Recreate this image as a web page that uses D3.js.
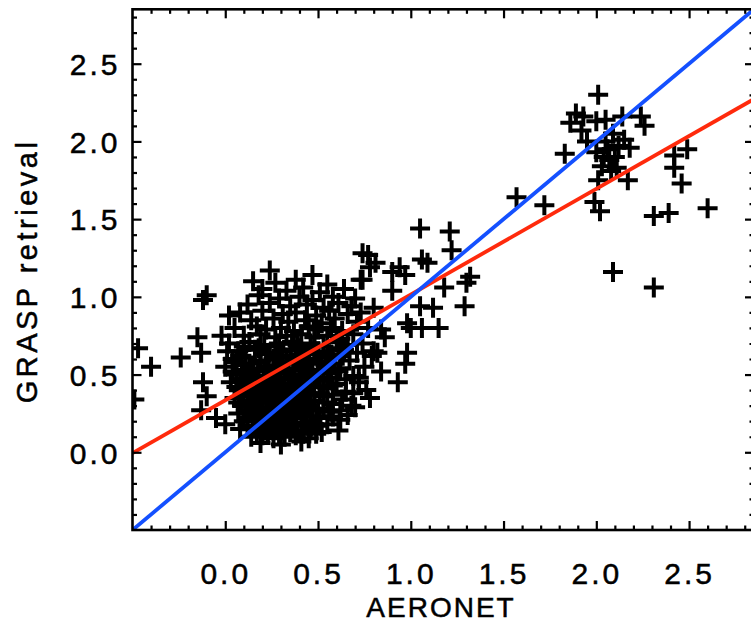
<!DOCTYPE html>
<html>
<head>
<meta charset="utf-8">
<script src="https://cdn.jsdelivr.net/npm/d3@7"></script>
<style>
  html, body { margin: 0; padding: 0; background: #fff; }
  svg { display: block; }
  text { font-family: "Liberation Sans", Arial, sans-serif; fill: #000; stroke: #000; stroke-width: 0.5px; }
</style>
</head>
<body>
<svg id="chart" width="751" height="622"></svg>
<script>
// AOD pairs: [AERONET, GRASP retrieval]
const coreCluster = [
  [0.24,1.17],[0.47,1.14],
  [0.15,1.10],[0.27,1.09],[0.38,1.11],[0.55,1.08],
  [0.20,1.05],[0.33,1.04],[0.42,1.06],[0.51,1.03],[0.64,1.05],
  [0.18,1.01],[0.29,0.99],[0.40,1.00],[0.47,0.98],[0.58,1.00],[0.70,0.99],
  [0.12,0.95],[0.24,0.96],[0.35,0.94],[0.44,0.95],[0.53,0.93],[0.61,0.96],[0.68,0.94],
  [0.08,0.90],[0.20,0.91],[0.31,0.89],[0.38,0.90],[0.49,0.88],[0.56,0.91],[0.66,0.89],[0.73,0.90],
  [0.14,0.85],[0.26,0.86],[0.34,0.84],[0.43,0.85],[0.52,0.83],[0.59,0.86],[0.71,0.84],
  [0.05,0.80],[0.17,0.81],[0.22,0.79],[0.30,0.80],[0.37,0.78],[0.45,0.81],[0.50,0.79],[0.57,0.80],[0.63,0.78],[0.77,0.80],
  [0.10,0.75],[0.19,0.76],[0.27,0.74],[0.33,0.75],[0.41,0.76],[0.48,0.74],[0.55,0.75],[0.62,0.73],[0.69,0.76],
  [0.02,0.70],[0.13,0.71],[0.21,0.69],[0.29,0.70],[0.36,0.71],[0.39,0.69],[0.46,0.70],[0.53,0.68],[0.60,0.71],[0.66,0.69],[0.74,0.70],
  [0.07,0.65],[0.16,0.66],[0.24,0.64],[0.31,0.65],[0.35,0.66],[0.43,0.64],[0.50,0.65],[0.56,0.63],[0.64,0.66],[0.71,0.64],[0.80,0.65],
  [0.04,0.60],[0.11,0.61],[0.19,0.59],[0.26,0.60],[0.33,0.61],[0.38,0.59],[0.45,0.60],[0.52,0.58],[0.58,0.61],[0.67,0.59],
  [0.00,0.55],[0.09,0.56],[0.15,0.54],[0.22,0.55],[0.28,0.56],[0.34,0.54],[0.41,0.55],[0.47,0.53],[0.54,0.56],[0.62,0.54],[0.75,0.55],
  [0.06,0.50],[0.12,0.51],[0.18,0.49],[0.25,0.50],[0.30,0.51],[0.37,0.49],[0.43,0.50],[0.49,0.48],[0.57,0.51],[0.69,0.49],
  [0.03,0.45],[0.10,0.46],[0.16,0.44],[0.21,0.45],[0.27,0.46],[0.32,0.44],[0.39,0.45],[0.45,0.43],[0.51,0.46],[0.60,0.44],[0.72,0.45],
  [0.08,0.40],[0.14,0.41],[0.20,0.39],[0.26,0.40],[0.31,0.41],[0.36,0.39],[0.42,0.40],[0.48,0.38],[0.55,0.41],[0.65,0.39],
  [0.05,0.35],[0.12,0.36],[0.18,0.34],[0.23,0.35],[0.29,0.36],[0.34,0.34],[0.40,0.35],[0.46,0.33],[0.53,0.36],[0.63,0.34],[0.78,0.35],
  [0.09,0.30],[0.15,0.31],[0.22,0.29],[0.27,0.30],[0.33,0.31],[0.38,0.29],[0.44,0.30],[0.50,0.28],[0.58,0.31],[0.70,0.29],
  [0.07,0.25],[0.13,0.26],[0.19,0.24],[0.25,0.25],[0.31,0.26],[0.36,0.24],[0.42,0.25],[0.49,0.23],[0.56,0.26],[0.66,0.24],
  [0.10,0.20],[0.17,0.21],[0.23,0.19],[0.29,0.20],[0.34,0.21],[0.41,0.19],[0.47,0.20],[0.55,0.18],[0.62,0.21],
  [0.08,0.15],[0.15,0.16],[0.21,0.14],[0.28,0.15],[0.33,0.16],[0.39,0.14],[0.46,0.15],[0.52,0.13],[0.61,0.14],
  [0.14,0.10],[0.20,0.11],[0.26,0.09],[0.32,0.10],[0.38,0.11],[0.45,0.09],
  [0.19,0.06],[0.30,0.05],[0.41,0.07]
];

// Denser heart of the cluster
const coreFill = [
  [0.10,0.68],[0.18,0.67],[0.27,0.68],[0.40,0.67],[0.48,0.68],[0.61,0.67],
  [0.08,0.62],[0.22,0.63],[0.29,0.62],[0.41,0.62],[0.48,0.63],[0.55,0.62],[0.62,0.62],
  [0.06,0.58],[0.13,0.57],[0.19,0.58],[0.31,0.57],[0.37,0.58],[0.44,0.57],[0.50,0.58],[0.59,0.57],
  [0.04,0.52],[0.10,0.53],[0.21,0.52],[0.27,0.53],[0.33,0.52],[0.40,0.53],[0.46,0.52],[0.53,0.53],[0.61,0.52],
  [0.08,0.47],[0.14,0.48],[0.23,0.47],[0.29,0.48],[0.35,0.47],[0.41,0.48],[0.48,0.47],[0.55,0.48],[0.65,0.47],
  [0.06,0.42],[0.12,0.43],[0.18,0.42],[0.24,0.43],[0.29,0.42],[0.34,0.43],[0.40,0.42],[0.46,0.43],[0.53,0.42],[0.58,0.43],
  [0.10,0.37],[0.16,0.38],[0.22,0.37],[0.28,0.38],[0.33,0.37],[0.38,0.38],[0.44,0.37],[0.51,0.38],[0.58,0.37],[0.69,0.38],
  [0.07,0.32],[0.13,0.33],[0.20,0.32],[0.25,0.33],[0.31,0.32],[0.36,0.33],[0.42,0.32],[0.48,0.33],[0.55,0.32],
  [0.11,0.27],[0.17,0.28],[0.24,0.27],[0.29,0.28],[0.35,0.27],[0.40,0.28],[0.46,0.27],[0.53,0.28],[0.62,0.27],
  [0.12,0.22],[0.20,0.23],[0.26,0.22],[0.32,0.23],[0.38,0.22],[0.44,0.23],[0.51,0.22],[0.58,0.23],
  [0.12,0.17],[0.19,0.18],[0.25,0.17],[0.31,0.18],[0.37,0.17],[0.43,0.18],[0.49,0.17],
  [0.17,0.12],[0.23,0.13],[0.29,0.12],[0.35,0.13],[0.42,0.12],[0.49,0.12]
];

const leftWing = [
  [-0.47,0.67],[-0.40,0.55],[-0.49,0.34],
  [-0.24,0.61],[-0.15,0.74],[-0.13,0.64],[-0.12,0.98],[-0.10,1.01],
  [-0.02,0.75],[0.01,0.65],[0.02,0.88],[-0.12,0.45],[-0.10,0.36],
  [-0.13,0.27],[-0.05,0.22],[0.00,0.18]
];

const midRange = [
  [0.74,1.28],[0.78,1.19],[0.74,1.11],[0.81,1.22],[0.77,1.27],[0.73,1.11],
  [0.90,1.04],[0.90,1.16],[0.94,1.19],[0.97,1.14],[0.80,0.93],
  [0.84,0.79],[0.86,0.74],[0.82,0.64],[0.98,0.64],[0.97,0.57],[0.93,0.45],
  [0.98,0.83],[1.00,0.80],[1.06,0.80],[1.15,0.80],[1.05,0.94],[1.12,0.93],
  [1.29,0.94],[1.18,1.06],[1.30,1.09],[1.32,1.13],[1.06,1.24],[1.09,1.22],
  [1.05,1.44],[1.21,1.42],[1.22,1.30],[0.72,0.48],[0.76,0.40],[0.68,0.30],
  [0.84,0.52],[0.79,0.62]
];

const highRange = [
  [1.57,1.64],[1.72,1.59],
  [2.01,2.30],[1.89,2.18],[1.93,2.16],[1.86,2.12],[2.05,2.14],[2.14,2.16],
  [2.24,2.16],[2.26,2.10],[1.83,1.92],[1.95,2.00],[2.05,2.00],[2.15,2.01],
  [2.18,1.96],[2.00,1.93],[2.07,1.88],[2.11,1.83],[2.03,1.84],[2.08,1.81],
  [2.17,1.75],[2.01,1.75],[2.42,1.91],[2.49,1.95],[2.42,1.83],[2.46,1.73],
  [1.99,1.61],[2.02,1.55],[2.31,1.52],[2.39,1.54],[2.60,1.57],[2.09,1.16],
  [2.31,1.06],[2.06,1.95],[2.10,1.90],[2.12,1.97],[2.04,1.90],[2.09,2.05],
  [2.00,2.13],[1.92,2.07]
];

const allPairs = [...coreCluster, ...coreFill, ...leftWing, ...midRange, ...highRange];

// Reference lines: one-to-one and least-squares fit
const oneToOne = { intercept: 0, slope: 1 };
const fitLine = { intercept: 0.335, slope: 0.68 };

const xDomain = [-0.5, 2.85];
const yDomain = [-0.5, 2.85];
const majorTicks = [0.0, 0.5, 1.0, 1.5, 2.0, 2.5];
const minorTicks = d3.range(-4, 29).map(i => i / 10);
const xTitle = "AERONET";
const yTitle = "GRASP retrieval";

const svg = d3.select("#chart");
const plotLeft = 132.5, plotRight = 754, plotTop = 9.3, plotBottom = 530;

const x = d3.scaleLinear().domain(xDomain).range([plotLeft, plotRight]);
const y = d3.scaleLinear().domain(yDomain).range([plotBottom, plotTop]);

svg.append("defs").append("clipPath").attr("id", "plotClip")
  .append("rect").attr("x", plotLeft).attr("y", plotTop)
  .attr("width", plotRight - plotLeft).attr("height", plotBottom - plotTop);

const plot = svg.append("g").attr("clip-path", "url(#plotClip)");

// Markers: plus signs
plot.append("g").selectAll("path").data(allPairs).join("path")
  .attr("transform", d => `translate(${x(d[0])},${y(d[1])})`)
  .attr("d", "M-10,0H10M0,-10V10")
  .attr("stroke", "#000").attr("stroke-width", 4).attr("fill", "none");

// Lines
function drawLine(l, color) {
  plot.append("line")
    .attr("x1", x(xDomain[0])).attr("y1", y(l.intercept + l.slope * xDomain[0]))
    .attr("x2", x(xDomain[1])).attr("y2", y(l.intercept + l.slope * xDomain[1]))
    .attr("stroke", color).attr("stroke-width", 3.8);
}
drawLine(fitLine, "#ff2a0c");
drawLine(oneToOne, "#1450ff");

// Axes with inward ticks on all four sides
const minorOnly = minorTicks.filter(t => !majorTicks.some(m => Math.abs(m - t) < 1e-6));
function addAxis(gen, scale, ticks, size, transform, labels) {
  const g = svg.append("g").attr("transform", transform)
    .call(gen(scale).tickValues(ticks).tickSize(size).tickSizeOuter(0)
      .tickFormat(labels ? d3.format(".1f") : () => ""));
  g.select(".domain").remove();
  g.selectAll(".tick line").attr("stroke", "#000").attr("stroke-width", 2.2);
  return g;
}
const bx = addAxis(d3.axisBottom, x, majorTicks, -9, `translate(0,${plotBottom})`, true);
addAxis(d3.axisBottom, x, minorOnly, -4.5, `translate(0,${plotBottom})`, false);
addAxis(d3.axisTop, x, majorTicks, -9, `translate(0,${plotTop})`, false);
addAxis(d3.axisTop, x, minorOnly, -4.5, `translate(0,${plotTop})`, false);
const ly = addAxis(d3.axisLeft, y, majorTicks, -9, `translate(${plotLeft},0)`, true);
addAxis(d3.axisLeft, y, minorOnly, -4.5, `translate(${plotLeft},0)`, false);
addAxis(d3.axisRight, y, majorTicks, -9, `translate(${plotRight},0)`, false);
addAxis(d3.axisRight, y, minorOnly, -4.5, `translate(${plotRight},0)`, false);

bx.selectAll(".tick text")
  .attr("y", 0).attr("dy", 0)
  .attr("transform", "translate(0,54)")
  .style("font-size", "30px").style("letter-spacing", "3px");
ly.selectAll(".tick text")
  .attr("x", -12).attr("dy", "0.36em")
  .style("font-size", "30px").style("letter-spacing", "3px");

// Frame
svg.append("rect").attr("x", plotLeft).attr("y", plotTop)
  .attr("width", plotRight - plotLeft).attr("height", plotBottom - plotTop)
  .attr("fill", "none").attr("stroke", "#000").attr("stroke-width", 2.6);

// Axis titles
svg.append("text").attr("x", 441).attr("y", 617)
  .attr("text-anchor", "middle")
  .style("font-size", "28px").style("letter-spacing", "2px")
  .text(xTitle);
svg.append("text")
  .attr("transform", "translate(37,271) rotate(-90)")
  .attr("text-anchor", "middle")
  .style("font-size", "29px").style("letter-spacing", "3.5px")
  .text(yTitle);
</script>
</body>
</html>
